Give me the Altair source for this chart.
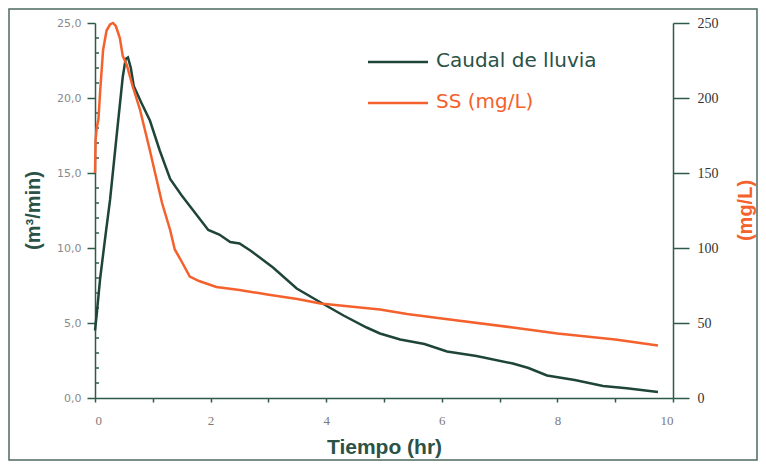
import altair as alt
import pandas as pd

# ---- data ----
t_caudal = [0.0, 0.03, 0.09, 0.18, 0.26, 0.38, 0.48, 0.53, 0.57, 0.62, 0.67, 0.8, 0.95,
            1.12, 1.3, 1.5, 1.7, 1.96, 2.15, 2.34, 2.5, 2.7, 3.08, 3.49, 3.89, 4.3, 4.7,
            4.93, 5.28, 5.7, 6.09, 6.6, 7.23, 7.5, 7.82, 8.3, 8.79, 9.2, 9.74]
caudal = [4.5, 5.6, 8.0, 10.8, 13.2, 17.7, 21.4, 22.6, 22.7, 22.0, 20.8, 19.7, 18.5,
          16.5, 14.6, 13.5, 12.5, 11.2, 10.9, 10.4, 10.3, 9.8, 8.7, 7.3, 6.4, 5.5, 4.7,
          4.3, 3.9, 3.6, 3.1, 2.8, 2.3, 2.0, 1.5, 1.2, 0.8, 0.65, 0.4]

t_ss = [0.0, 0.01, 0.03, 0.06, 0.09, 0.14, 0.2, 0.26, 0.31, 0.36, 0.43, 0.48, 0.55,
        0.65, 0.78, 0.95, 1.07, 1.16, 1.3, 1.38, 1.47, 1.64, 1.8, 2.1, 2.5, 2.98, 3.5,
        3.9, 4.93, 5.4, 6.0, 7.23, 8.0, 9.0, 9.74]
ss = [150, 172, 180, 186, 205, 232, 245, 249, 250, 248, 240, 228, 222,
      208, 192, 165, 145, 130, 112, 99, 93, 81, 78, 74, 72, 69, 66,
      63, 59, 56, 53, 47, 43, 39, 35]

legend_labels = ["Caudal de lluvia", "SS (mg/L)"]
x_ticks = [0, 1, 2, 3, 4, 5, 6, 7, 8, 9, 10]
left_ticks = [0, 5, 10, 15, 20, 25]
left_minor = [1, 2, 3, 4, 6, 7, 8, 9, 11, 12, 13, 14, 16, 17, 18, 19, 21, 22, 23, 24]
right_ticks = [0, 50, 100, 150, 200, 250]

# ---- styling ----
W, H = 578, 375
GREEN = "#1f4538"
ORANGE = "#f4612d"
AXIS = "#2e5a4a"
TITLE_GREEN = "#2a5246"

df_c = pd.DataFrame({"t": t_caudal, "q": caudal})
df_s = pd.DataFrame({"t": t_ss, "ss": ss})
df_minor = pd.DataFrame({"q": left_minor})
df_leg = pd.DataFrame({"label": legend_labels})
df_one = pd.DataFrame({"a": [0]})

x_scale = alt.Scale(domain=[0, 10], nice=False, zero=False)
x_axis = alt.Axis(
    values=x_ticks,
    labelExpr="datum.value % 2 == 0 ? datum.label : ''",
    title="Tiempo (hr)",
    titleFont="Liberation Sans", titleFontWeight="bold", titleFontSize=21,
    titleColor=TITLE_GREEN, titleBaseline="alphabetic", titleY=55,
    tickSize=4, tickColor=AXIS, tickWidth=1.5,
    domainColor=AXIS, domainWidth=1.5,
    labelFont="Liberation Serif", labelFontSize=13, labelColor="#7a7a7a",
    labelPadding=12, grid=False,
)
left_scale = alt.Scale(domain=[0, 25], nice=False, zero=True)
left_axis = alt.Axis(
    values=left_ticks,
    labelExpr="replace(format(datum.value, '.1f'), '.', ',')",
    title="(m³/min)",
    titleFont="Liberation Sans", titleFontWeight="bold", titleFontSize=20,
    titleColor=TITLE_GREEN, titleAngle=-90, titleX=-62, titleY=187,
    titleAlign="center", titleBaseline="middle",
    tickSize=8, tickColor=AXIS, tickWidth=1.5,
    domainColor=AXIS, domainWidth=1.5,
    labelFont="DejaVu Sans", labelFontSize=11, labelColor="#8a8a8a",
    labelPadding=6, grid=False,
)
right_axis = alt.Axis(
    orient="right",
    values=right_ticks,
    title="(mg/L)",
    titleFont="Liberation Sans", titleFontWeight="bold", titleFontSize=20,
    titleColor=ORANGE, titleAngle=-90, titleX=72, titleY=187,
    titleAlign="center", titleBaseline="middle",
    tickSize=16, tickColor=AXIS, tickWidth=1.5,
    domainColor=AXIS, domainWidth=1.5,
    labelFont="Liberation Serif", labelFontSize=14, labelColor="#333333",
    labelPadding=8, grid=False,
)

green = alt.Chart(df_c).mark_line(color=GREEN, strokeWidth=2.5).encode(
    x=alt.X("t:Q", scale=x_scale, axis=x_axis),
    y=alt.Y("q:Q", scale=left_scale, axis=left_axis),
)
minor = alt.Chart(df_minor).mark_rule(color=AXIS, strokeWidth=1.5).encode(
    y=alt.Y("q:Q", scale=left_scale, axis=left_axis),
    x=alt.value(0), x2=alt.value(4),
)
left_layer = alt.layer(minor, green)

orange = alt.Chart(df_s).mark_line(color=ORANGE, strokeWidth=2.5).encode(
    x=alt.X("t:Q", scale=x_scale, axis=x_axis),
    y=alt.Y("ss:Q", scale=alt.Scale(domain=[0, 250], nice=False, zero=True), axis=right_axis),
)

# legend (drawn manually)
leg_line1 = alt.Chart(df_leg).transform_filter(alt.datum.label == legend_labels[0]).mark_rule(
    color=GREEN, strokeWidth=2.5).encode(x=alt.value(273), x2=alt.value(333), y=alt.value(39))
leg_line2 = alt.Chart(df_leg).transform_filter(alt.datum.label == legend_labels[1]).mark_rule(
    color=ORANGE, strokeWidth=2.5).encode(x=alt.value(273), x2=alt.value(333), y=alt.value(80))
leg_text1 = alt.Chart(df_leg).transform_filter(alt.datum.label == legend_labels[0]).mark_text(
    align="left", baseline="middle", font="DejaVu Sans", fontSize=20, color=TITLE_GREEN).encode(
    text="label:N", x=alt.value(341), y=alt.value(38))
leg_text2 = alt.Chart(df_leg).transform_filter(alt.datum.label == legend_labels[1]).mark_text(
    align="left", baseline="middle", font="DejaVu Sans", fontSize=20, color=ORANGE).encode(
    text="label:N", x=alt.value(341), y=alt.value(79))

frame = alt.Chart(df_one).mark_rect(fillOpacity=0, stroke="#4d6b5e", strokeWidth=1.5).encode(
    x=alt.value(-86), x2=alt.value(662), y=alt.value(-14), y2=alt.value(437))

chart = alt.layer(
    frame, left_layer, orange, leg_line1, leg_line2, leg_text1, leg_text2
).resolve_scale(y="independent").properties(
    width=W, height=H,
    autosize=alt.AutoSizeParams(type="none"),
    padding={"left": 87, "top": 15, "right": 85, "bottom": 63},
    background="white",
).configure_view(stroke=None)

chart.save("out.html", embed_options={"renderer": "svg", "actions": False})
